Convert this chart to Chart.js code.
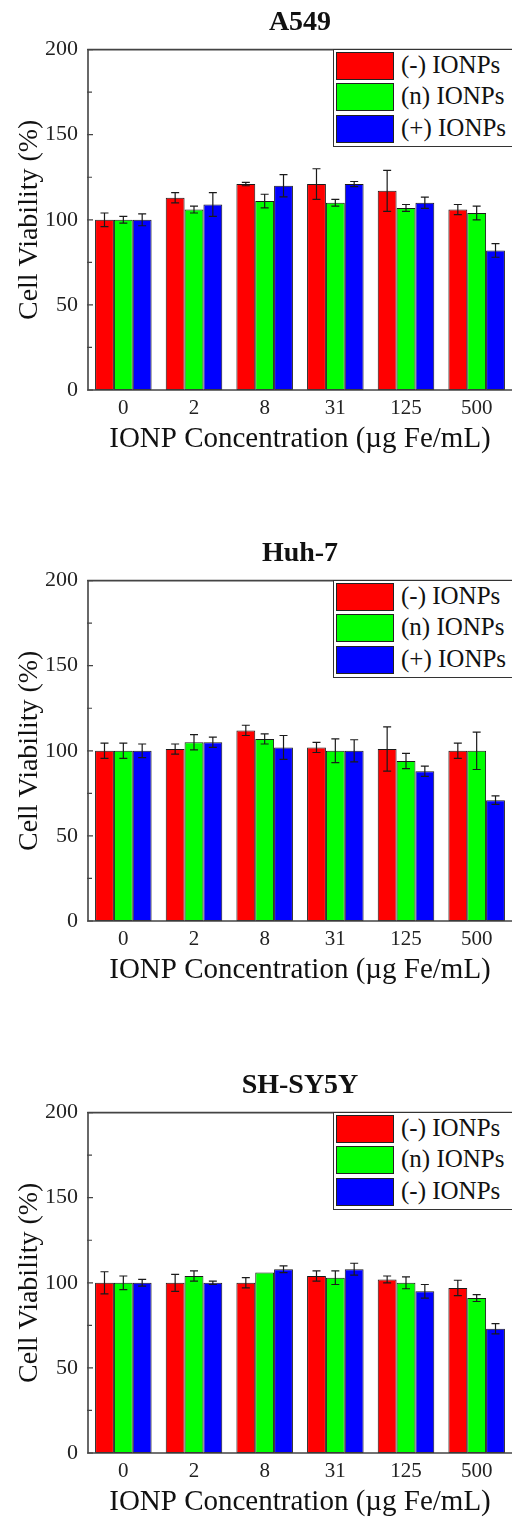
<!DOCTYPE html>
<html>
<head>
<meta charset="utf-8">
<script src="https://cdn.jsdelivr.net/npm/chart.js@4.4.1/dist/chart.umd.min.js"></script>
<style>
  html, body { margin: 0; padding: 0; background: #fff; }
  body { width: 512px; height: 1526px; position: relative; overflow: hidden; }
  .panel { position: absolute; left: 0; width: 512px; height: 470px; }
  .panel canvas { position: absolute; left: 0; top: 0; }
  .legend {
    position: absolute; left: 333px; top: 49px; width: 190px; height: 98px;
    border: 1.5px solid #333; box-sizing: border-box; background: #fff;
    font-family: 'Liberation Serif', 'Times New Roman', serif; font-size: 25px; color: #111;
  }
  .legend .swatch { position: absolute; left: 2px; width: 58px; height: 28px; border: 1px solid #222; box-sizing: border-box; }
  .legend .label { position: absolute; left: 67px; height: 28px; line-height: 28px; white-space: nowrap; }
</style>
</head>
<body>
<div class="panel" id="p1" style="top:0px"><canvas id="c1" width="512" height="470"></canvas></div>
<div class="panel" id="p2" style="top:531px"><canvas id="c2" width="512" height="470"></canvas></div>
<div class="panel" id="p3" style="top:1063px"><canvas id="c3" width="512" height="470"></canvas></div>
<script>
// Iron oxide nanoparticle concentrations (µg Fe/mL)
const concentrations = ['0', '2', '8', '31', '125', '500'];
const viabilityTicks = [0, 50, 100, 150, 200];

const seriesNames = ['(-) IONPs', '(n) IONPs', '(+) IONPs'];
const seriesNamesSHSY5Y = ['(-) IONPs', '(n) IONPs', '(-) IONPs'];

// A549 cell viability (%) and error
const a549Neg    = [100, 113, 121, 121, 117, 106];
const a549NegErr = [4, 3, 1, 9, 12, 3];
const a549Neu    = [100, 106, 111, 110, 107, 104];
const a549NeuErr = [2, 2, 4, 2, 2, 4];
const a549Pos    = [100, 109, 120, 121, 110, 82];
const a549PosErr = [3.5, 7, 6.5, 1.5, 3.3, 4];

// Huh-7 cell viability (%) and error
const huh7Neg    = [100, 101, 112, 102, 101, 100];
const huh7NegErr = [4.5, 3, 3, 3, 13, 4.5];
const huh7Neu    = [100, 105, 107, 100, 94, 100];
const huh7NeuErr = [4.5, 4.5, 3, 7, 4.5, 11];
const huh7Pos    = [100, 105, 102, 100, 88, 71];
const huh7PosErr = [4, 3, 7, 6.5, 3, 2.5];

// SH-SY5Y cell viability (%) and error
const shNeg    = [100, 100, 100, 104, 102, 97];
const shNegErr = [6.5, 5, 3, 3, 2, 4.5];
const shNeu    = [100, 104, 106, 103, 100, 91];
const shNeuErr = [4, 3, 0, 4, 3.5, 2];
const shPos    = [100, 100, 108, 108, 95, 73];
const shPosErr = [2, 1, 2, 3.5, 4, 3];

const SERIF = "'Liberation Serif', 'Times New Roman', serif";
const BAR_COLORS = ['#ff0000', '#00ff00', '#0000ff'];
const INK = '#1a1a1a';

// Vertical error bars with caps, drawn from each bar's value +/- error
const errorBars = {
  id: 'errorBars',
  afterDatasetsDraw(chart) {
    const ctx = chart.ctx;
    const yScale = chart.scales.y;
    ctx.save();
    ctx.strokeStyle = INK;
    ctx.lineWidth = 1.2;
    chart.data.datasets.forEach((ds, i) => {
      const meta = chart.getDatasetMeta(i);
      meta.data.forEach((bar, j) => {
        const err = ds.errors[j];
        if (!err) return;
        const v = ds.data[j];
        const yTop = yScale.getPixelForValue(v + err);
        const yBot = yScale.getPixelForValue(v - err);
        const x = bar.x;
        const cap = 4;
        ctx.beginPath();
        ctx.moveTo(x, yTop); ctx.lineTo(x, yBot);
        ctx.moveTo(x - cap, yTop); ctx.lineTo(x + cap, yTop);
        ctx.moveTo(x - cap, yBot); ctx.lineTo(x + cap, yBot);
        ctx.stroke();
      });
    });
    ctx.restore();
  }
};

// Plot frame (left, bottom, top) and inward-pointing y ticks
const plotFrame = {
  id: 'plotFrame',
  afterDraw(chart) {
    const { ctx, chartArea: a } = chart;
    const yScale = chart.scales.y;
    ctx.save();
    ctx.strokeStyle = '#444';
    ctx.lineWidth = 1.6;
    ctx.beginPath();
    ctx.moveTo(a.right + 2, a.top);
    ctx.lineTo(a.left, a.top);
    ctx.lineTo(a.left, a.bottom);
    ctx.lineTo(a.right + 2, a.bottom);
    ctx.stroke();
    ctx.lineWidth = 1.2;
    ctx.beginPath();
    yScale.ticks.forEach(t => {
      const y = yScale.getPixelForValue(t.value);
      const len = viabilityTicks.includes(t.value) ? 5 : 4;
      ctx.moveTo(a.left - 1, y);
      ctx.lineTo(a.left + len, y);
    });
    ctx.stroke();
    ctx.restore();
  }
};

function buildLegend(panelId, chart) {
  const box = document.createElement('div');
  box.className = 'legend';
  const items = Chart.defaults.plugins.legend.labels.generateLabels(chart);
  items.forEach((item, i) => {
    const top = 2 + i * 31.3;
    const sw = document.createElement('div');
    sw.className = 'swatch';
    sw.style.top = top + 'px';
    sw.style.background = item.fillStyle;
    const lb = document.createElement('div');
    lb.className = 'label';
    lb.style.top = (top - 1) + 'px';
    lb.textContent = item.text;
    box.appendChild(sw);
    box.appendChild(lb);
  });
  document.getElementById(panelId).appendChild(box);
}

function makePanel(panelId, canvasId, title, names, values, errors) {
  const datasets = names.map((name, i) => ({
    label: name,
    data: values[i],
    errors: errors[i],
    backgroundColor: BAR_COLORS[i],
    borderColor: INK,
    borderWidth: 1,
    borderSkipped: false,
    categoryPercentage: 0.8,
    barPercentage: 1.0
  }));
  const chart = new Chart(document.getElementById(canvasId), {
    type: 'bar',
    data: { labels: concentrations, datasets },
    options: {
      responsive: false,
      animation: false,
      devicePixelRatio: 1,
      layout: { padding: 0 },
      plugins: {
        legend: { display: false },
        tooltip: { enabled: false },
        title: {
          display: true,
          text: title,
          fullSize: false,
          color: '#111',
          font: { family: SERIF, size: 28, weight: 'bold' },
          padding: { top: 6, bottom: 10 }
        }
      },
      scales: {
        x: {
          type: 'category',
          grid: { display: false, drawTicks: false },
          border: { display: false },
          ticks: { color: '#222', font: { family: SERIF, size: 21 }, padding: 6 },
          title: {
            display: true,
            text: 'IONP Concentration (µg Fe/mL)',
            color: '#111',
            font: { family: SERIF, size: 29 },
            padding: { top: 0, bottom: 13 }
          },
          afterFit(s) { s.height = 80; }
        },
        y: {
          min: 0,
          max: 200,
          grid: { display: false, drawTicks: false },
          border: { display: false },
          ticks: {
            stepSize: 25,
            autoSkip: false,
            color: '#222',
            font: { family: SERIF, size: 22 },
            padding: 10,
            callback: v => viabilityTicks.includes(v) ? String(v) : ''
          },
          title: {
            display: true,
            text: 'Cell Viability (%)',
            color: '#111',
            font: { family: SERIF, size: 28 },
            padding: { top: 13, bottom: 0 }
          },
          afterFit(s) { s.width = 88; }
        }
      }
    },
    plugins: [errorBars, plotFrame]
  });
  buildLegend(panelId, chart);
  return chart;
}

makePanel('p1', 'c1', 'A549', seriesNames,
  [a549Neg, a549Neu, a549Pos], [a549NegErr, a549NeuErr, a549PosErr]);
makePanel('p2', 'c2', 'Huh-7', seriesNames,
  [huh7Neg, huh7Neu, huh7Pos], [huh7NegErr, huh7NeuErr, huh7PosErr]);
makePanel('p3', 'c3', 'SH-SY5Y', seriesNamesSHSY5Y,
  [shNeg, shNeu, shPos], [shNegErr, shNeuErr, shPosErr]);
</script>
</body>
</html>
